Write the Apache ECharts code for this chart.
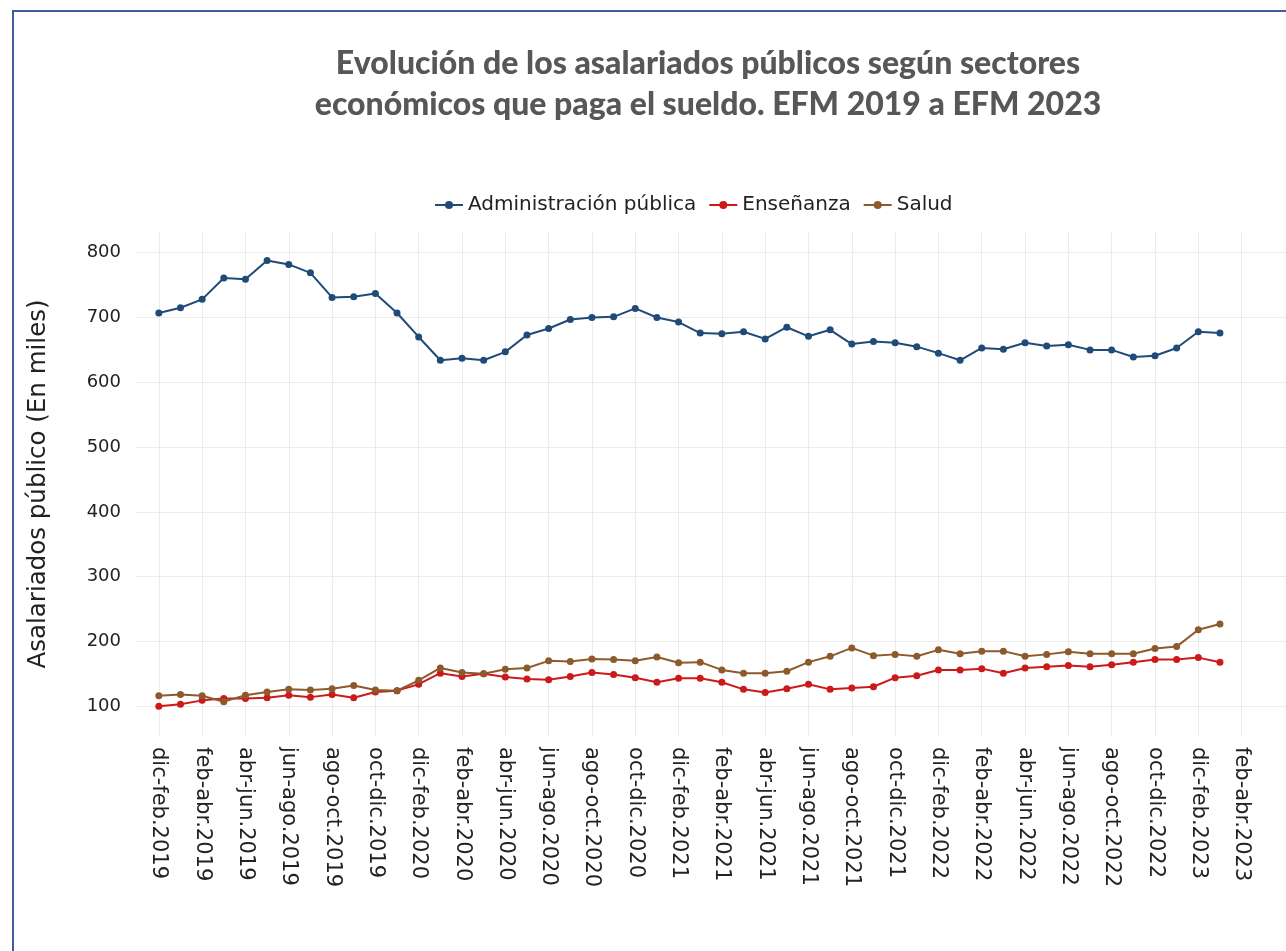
<!DOCTYPE html>
<html>
<head>
<meta charset="utf-8">
<script src="https://cdn.jsdelivr.net/npm/echarts@6/dist/echarts.min.js"></script>
<style>html,body{margin:0;padding:0;background:#fff;}#chart{width:1286px;height:951px;}</style>
</head>
<body>
<div id="chart"></div>
<script>
const categories = [
  'dic-feb.2019','ene-mar.2019','feb-abr.2019','mar-may.2019','abr-jun.2019','may-jul.2019','jun-ago.2019','jul-sep.2019','ago-oct.2019','sep-nov.2019','oct-dic.2019','nov-ene.2020',
  'dic-feb.2020','ene-mar.2020','feb-abr.2020','mar-may.2020','abr-jun.2020','may-jul.2020','jun-ago.2020','jul-sep.2020','ago-oct.2020','sep-nov.2020','oct-dic.2020','nov-ene.2021',
  'dic-feb.2021','ene-mar.2021','feb-abr.2021','mar-may.2021','abr-jun.2021','may-jul.2021','jun-ago.2021','jul-sep.2021','ago-oct.2021','sep-nov.2021','oct-dic.2021','nov-ene.2022',
  'dic-feb.2022','ene-mar.2022','feb-abr.2022','mar-may.2022','abr-jun.2022','may-jul.2022','jun-ago.2022','jul-sep.2022','ago-oct.2022','sep-nov.2022','oct-dic.2022','nov-ene.2023',
  'dic-feb.2023','ene-mar.2023','feb-abr.2023'
];
const administracion = [707,715,728,761,759,788,782,769,731,732,737,707,670,634,637,634,647,673,683,697,700,701,714,700,693,676,675,678,667,685,671,681,659,663,661,655,645,634,653,651,661,656,658,650,650,639,641,653,678,676];
const ensenanza = [100,103,109,112,112,113,117,114,118,113,122,124,134,151,146,150,145,142,141,146,152,149,144,137,143,143,137,126,121,127,134,126,128,130,144,147,156,156,158,151,159,161,163,161,164,168,172,172,175,168];
const salud = [116,118,116,107,117,122,126,125,127,132,125,124,140,159,152,150,157,159,170,169,173,172,170,176,167,168,156,151,151,154,168,177,190,178,180,177,187,181,185,185,177,180,184,181,181,181,189,192,218,227];
const yTicks = [100,200,300,400,500,600,700,800];
const xTickIdx = categories.map((c,i)=>i).filter(i=>i%2===0);

const toPairs = arr => arr.map((v,i)=>[i,v]);
const chart = echarts.init(document.getElementById('chart'));
const mk = (name, data, color) => ({
  name, type:'line', data: toPairs(data), symbol:'circle', symbolSize:7,
  lineStyle:{width:2,color}, itemStyle:{color}, showSymbol:true
});
chart.setOption({
  animation:false,
  backgroundColor:'#ffffff',
  graphic:[{type:'rect', shape:{x:13,y:11,width:1300,height:960}, style:{fill:'none', stroke:'#3f5d9c', lineWidth:2}}],
  title:{
    text:'Evolución de los asalariados públicos según sectores\neconómicos que paga el sueldo. EFM 2019 a EFM 2023',
    left:703, top:38, textAlign:'center',
    textStyle:{fontFamily:'Lato', fontWeight:900, fontSize:32, color:'#575757', lineHeight:41}
  },
  legend:{
    top:190, left:429, itemWidth:28, itemHeight:10, itemGap:12,
    textStyle:{fontFamily:'DejaVu Sans', fontSize:20, color:'#222'},
    data:['Administración pública','Enseñanza','Salud']
  },
  grid:{left:135, right:0, top:232, bottom:215, containLabel:false},
  xAxis:{
    type:'value', min:-1.1, max:52.05,
    axisLine:{show:false},
    axisTick:{show:false, customValues:xTickIdx},
    splitLine:{show:true, lineStyle:{color:'#ececec', width:1}},
    axisLabel:{customValues:xTickIdx, rotate:-90, margin:11, fontFamily:'DejaVu Sans', fontSize:21, color:'#222',
      formatter: v => categories[Math.round(v)] || ''}
  },
  yAxis:{
    type:'value', min:54, max:832,
    name:'Asalariados público (En miles)', nameLocation:'middle', nameGap:84,
    nameTextStyle:{fontFamily:'DejaVu Sans', fontSize:24.5, color:'#222'},
    axisLine:{show:false},
    axisTick:{show:false, customValues:yTicks},
    splitLine:{show:true, lineStyle:{color:'#ececec', width:1}},
    axisLabel:{customValues:yTicks, margin:14, fontFamily:'DejaVu Sans', fontSize:18, color:'#222'}
  },
  series:[
    mk('Administración pública', administracion, '#1f4b79'),
    mk('Enseñanza', ensenanza, '#cc1a1a'),
    mk('Salud', salud, '#8c5a2b')
  ]
});
</script>
</body>
</html>
